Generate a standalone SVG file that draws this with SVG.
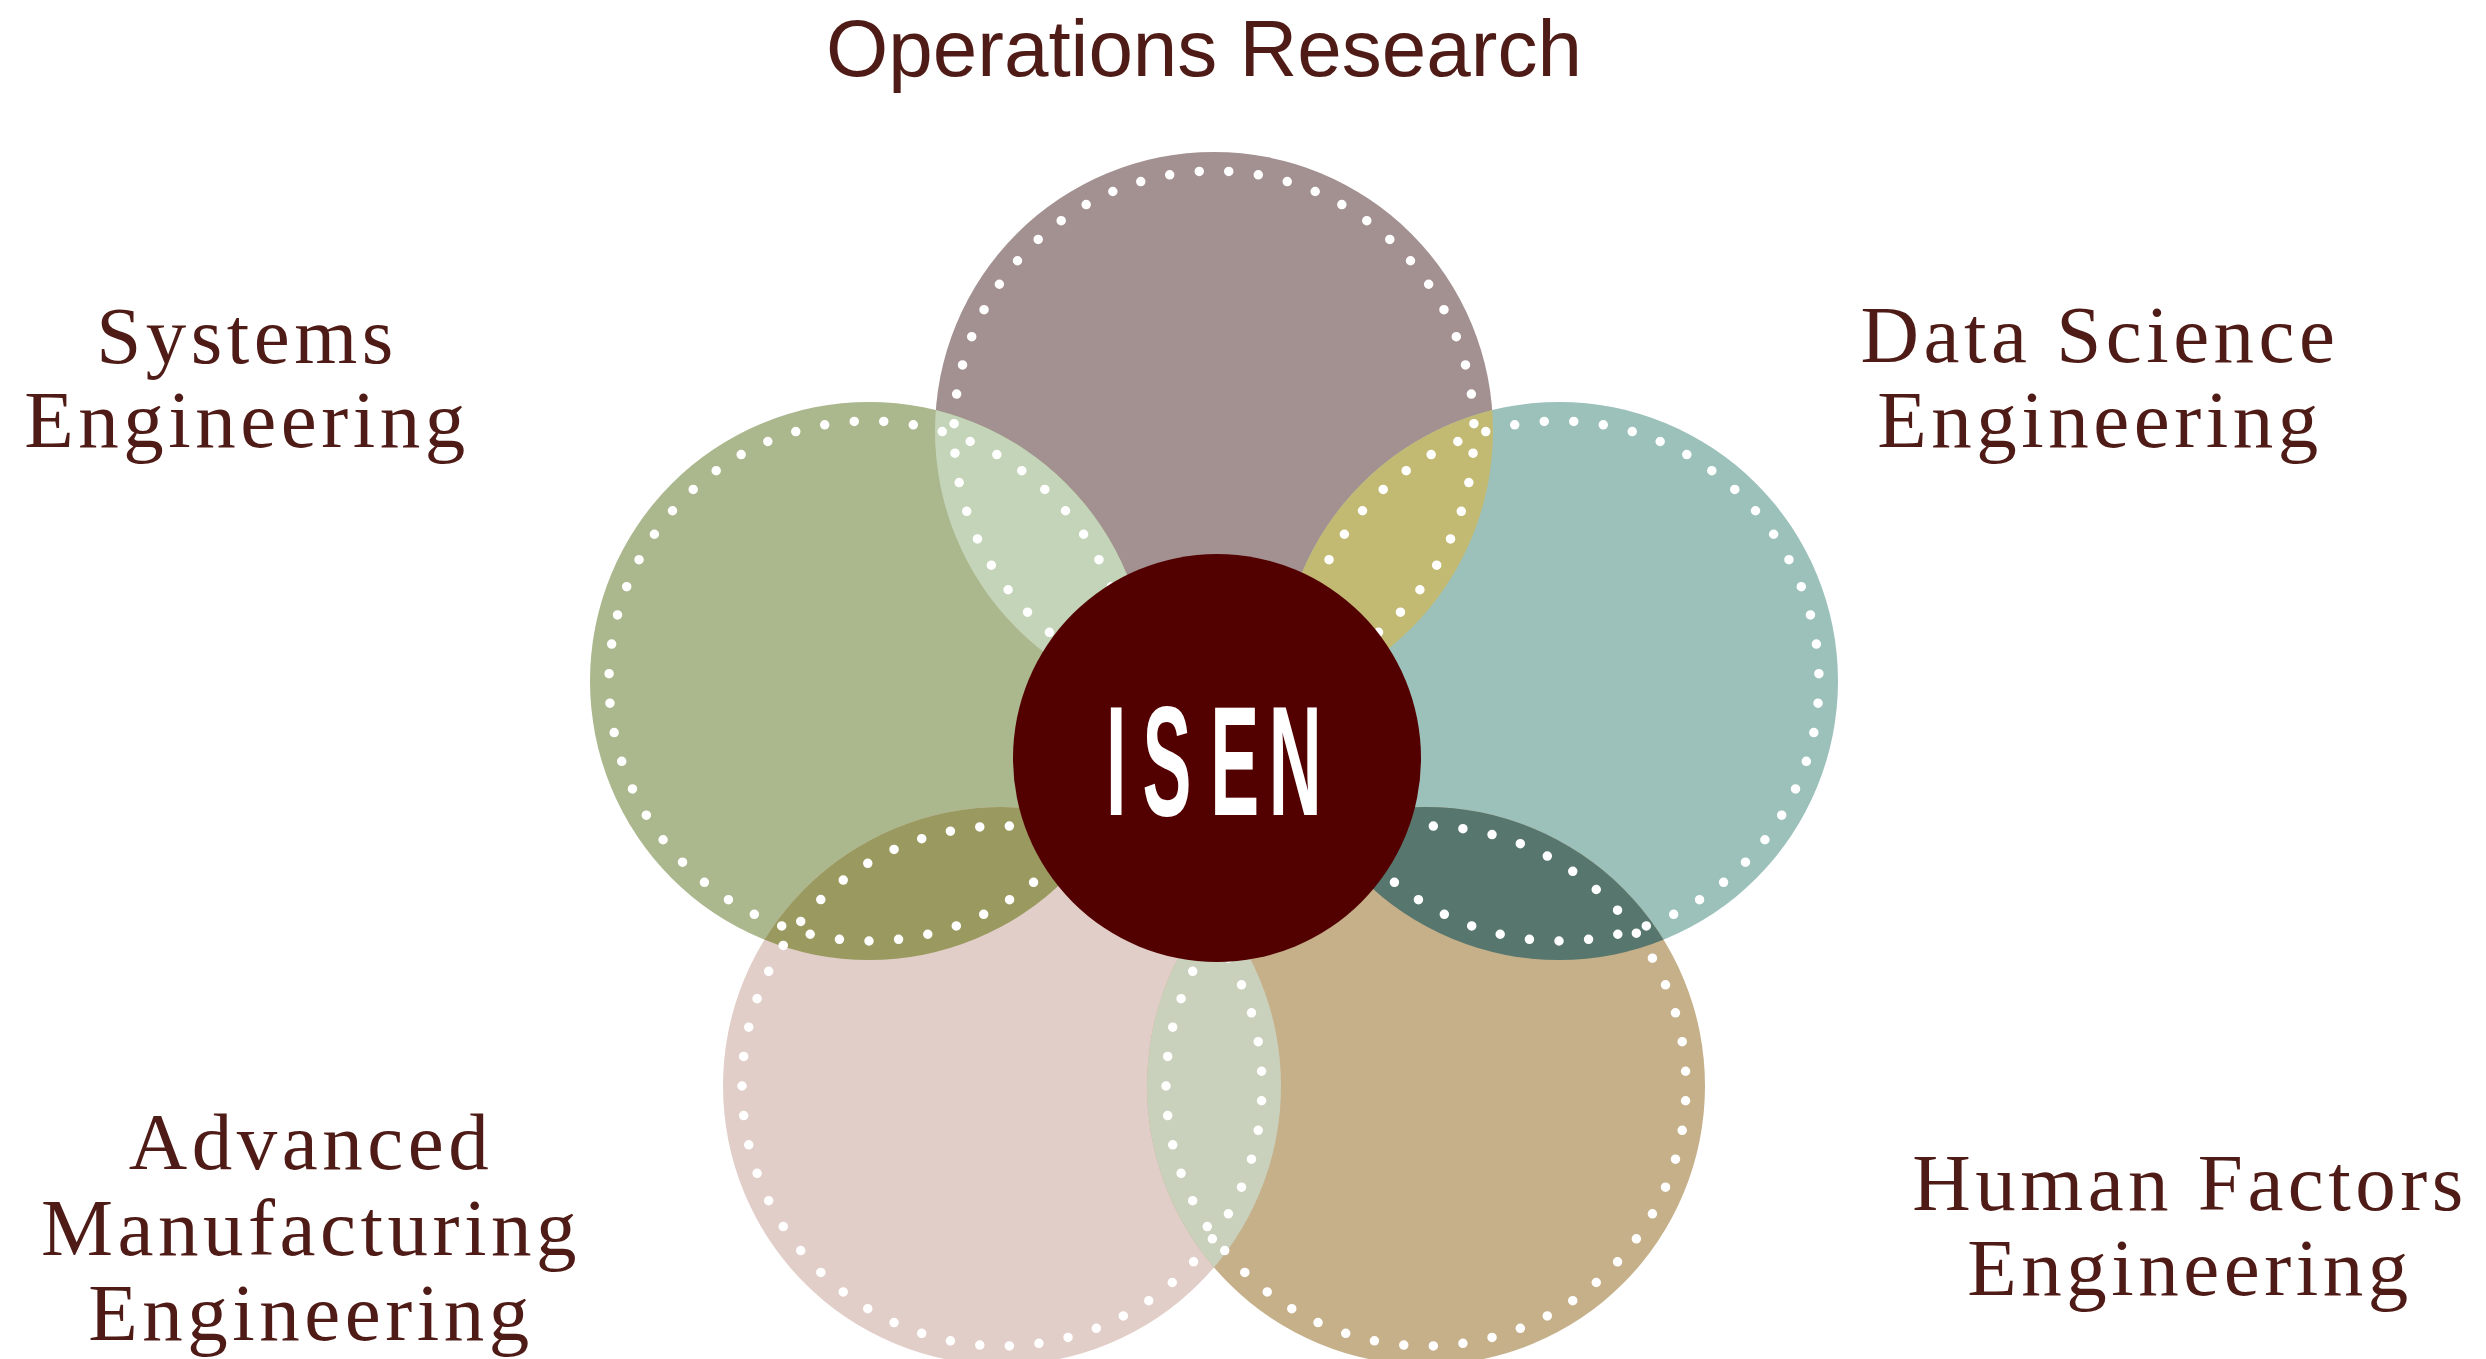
<svg xmlns="http://www.w3.org/2000/svg" width="2486" height="1359" viewBox="0 0 2486 1359">
  <style>
    .ring { fill: none; stroke: #ffffff; stroke-width: 9.5; stroke-linecap: round; stroke-dasharray: 0 1; }
    .label { font-family: "Liberation Serif", "Times New Roman", serif; font-size: 81px; fill: #4F1B16; letter-spacing: 4.5px; text-anchor: middle; }
    .title { font-family: "Liberation Sans", Arial, sans-serif; font-size: 80px; fill: #4F1B16; text-anchor: middle; }
    .isen { font-family: "Liberation Sans", Arial, sans-serif; font-weight: bold; font-size: 156px; fill: #ffffff; text-anchor: middle; }
  </style>
  <defs>
    <clipPath id="cTop"><circle cx="1214" cy="431" r="279"/></clipPath>
    <clipPath id="cLeft"><circle cx="869" cy="681" r="279"/></clipPath>
    <clipPath id="cRight"><circle cx="1559" cy="681" r="279"/></clipPath>
    <clipPath id="cBL"><circle cx="1002" cy="1086" r="279"/></clipPath>
    <clipPath id="cBR"><circle cx="1426" cy="1086" r="279"/></clipPath>
  </defs>
  <rect width="2486" height="1359" fill="#ffffff"/>

  <g id="circle-operations-research">
    <circle cx="1214" cy="431" r="279" fill="#A39091"/>
  </g>
  <g id="circle-systems-engineering">
    <circle cx="869" cy="681" r="279" fill="#ABB78D"/>
  </g>
  <g id="circle-data-science">
    <circle cx="1559" cy="681" r="279" fill="#9BC1BA"/>
  </g>
  <g id="circle-advanced-manufacturing">
    <circle cx="1002" cy="1086" r="279" fill="#E2CEC8"/>
  </g>
  <g id="circle-human-factors">
    <circle cx="1426" cy="1086" r="279" fill="#C5B089"/>
  </g>

  <g id="overlaps">
    <circle cx="1214" cy="431" r="279" fill="#C4D4B8" clip-path="url(#cLeft)"/>
    <circle cx="1214" cy="431" r="279" fill="#C2BA72" clip-path="url(#cRight)"/>
    <circle cx="869" cy="681" r="279" fill="#9A9A60" clip-path="url(#cBL)"/>
    <circle cx="1559" cy="681" r="279" fill="#56766E" clip-path="url(#cBR)"/>
    <circle cx="1002" cy="1086" r="279" fill="#C9D1BC" clip-path="url(#cBR)"/>
  </g>

  <g id="rings">
    <circle class="ring" cx="1214" cy="431" r="260" pathLength="55" stroke-dashoffset="0.25"/>
    <circle class="ring" cx="869" cy="681" r="260" pathLength="55" stroke-dashoffset="0.25"/>
    <circle class="ring" cx="1559" cy="681" r="260" pathLength="55" stroke-dashoffset="0.25"/>
    <circle class="ring" cx="1002" cy="1086" r="260" pathLength="55" stroke-dashoffset="0.5"/>
    <circle class="ring" cx="1426" cy="1086" r="260" pathLength="55" stroke-dashoffset="0.5"/>
  </g>

  <g id="center-isen">
    <circle cx="1217" cy="758" r="204" fill="#530000"/>
    <text class="isen" transform="translate(0,815) scale(0.47,1)"><tspan x="2375">I</tspan><tspan x="2483">S</tspan><tspan x="2627">E</tspan><tspan x="2756">N</tspan></text>
  </g>

  <g id="label-operations-research">
    <text class="title" x="1204" y="76">Operations Research</text>
  </g>
  <g id="label-systems-engineering">
    <text class="label" x="247" y="363">Systems</text>
    <text class="label" x="247" y="447">Engineering</text>
  </g>
  <g id="label-data-science">
    <text class="label" x="2100" y="362">Data Science</text>
    <text class="label" x="2100" y="447">Engineering</text>
  </g>
  <g id="label-advanced-manufacturing">
    <text class="label" x="311" y="1169">Advanced</text>
    <text class="label" x="311" y="1255">Manufacturing</text>
    <text class="label" x="311" y="1340">Engineering</text>
  </g>
  <g id="label-human-factors">
    <text class="label" x="2190" y="1210">Human Factors</text>
    <text class="label" x="2190" y="1295">Engineering</text>
  </g>
</svg>
